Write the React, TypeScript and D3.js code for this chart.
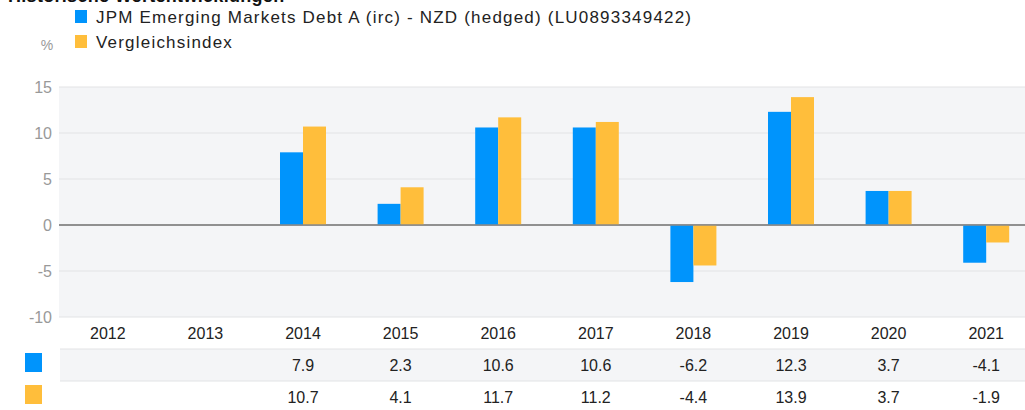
import React from "react";
import * as d3 from "d3";

const title = "Historische Wertentwicklungen";
const years = ["2012", "2013", "2014", "2015", "2016", "2017", "2018", "2019", "2020", "2021"];
const fundName = "JPM Emerging Markets Debt A (irc) - NZD (hedged) (LU0893349422)";
const indexName = "Vergleichsindex";
const fundValues: (number | null)[] = [null, null, 7.9, 2.3, 10.6, 10.6, -6.2, 12.3, 3.7, -4.1];
const indexValues: (number | null)[] = [null, null, 10.7, 4.1, 11.7, 11.2, -4.4, 13.9, 3.7, -1.9];
const yTicks = [15, 10, 5, 0, -5, -10];

const BLUE = "#0094fc";
const ORANGE = "#ffbe3b";
const FONT = "'Liberation Sans', Arial, sans-serif";

export default function App() {
  const W = 1025, H = 410;
  const left = 59, right = 1035;
  const top = 87, bottom = 317;
  const x = d3.scaleBand<string>().domain(years).range([left, right]).paddingInner(0).paddingOuter(0);
  const y = d3.scaleLinear().domain([-10, 15]).range([bottom, top]);
  const barW = 23;
  const fmt = (v: number | null) => (v == null ? "" : v.toFixed(1));
  const rowY1 = 349, rowY2 = 381;

  return (
    <svg width={W} height={H} style={{ position: "absolute", left: 0, top: 0 }} fontFamily={FONT}>
      <rect x={0} y={0} width={W} height={H} fill="#fff" />
      <text x={8} y={2} fontSize={18} fontWeight="bold" fill="#111" letterSpacing={0.3}>{title}</text>
      {/* legend */}
      <rect x={75} y={10} width={12} height={13} fill={BLUE} />
      <text x={96} y={23} fontSize={17} fill="#222" letterSpacing={1.2}>{fundName}</text>
      <rect x={75} y={35} width={12} height={13} fill={ORANGE} />
      <text x={96} y={48} fontSize={17} fill="#222" letterSpacing={1.2}>{indexName}</text>
      <text x={47} y={50} fontSize={14} fill="#999" textAnchor="middle">%</text>

      {/* plot bg */}
      <rect x={left} y={top} width={right - left} height={bottom - top} fill="#f4f5f7" />
      {yTicks.map((t) => (
        <g key={t}>
          <line x1={left} x2={right} y1={y(t)} y2={y(t)} stroke={t === 0 ? "#8a8a8a" : "#e2e3e5"} strokeWidth={t === 0 ? 1.5 : 1} />
          <text x={52} y={y(t) + 6} fontSize={16} fill="#999" textAnchor="end">{t}</text>
        </g>
      ))}
      {years.map((yr, i) => {
        const c = (x(yr) as number) + x.bandwidth() / 2;
        const f = fundValues[i];
        const ix = indexValues[i];
        return (
          <g key={yr}>
            {f != null && (
              <rect x={c - barW} width={barW} y={y(Math.max(0, f))} height={Math.abs(y(f) - y(0))} fill={BLUE} />
            )}
            {ix != null && (
              <rect x={c} width={barW} y={y(Math.max(0, ix))} height={Math.abs(y(ix) - y(0))} fill={ORANGE} />
            )}
          </g>
        );
      })}
      <line x1={left} x2={right} y1={y(0)} y2={y(0)} stroke="#8a8a8a" strokeWidth={1.5} />

      {/* table */}
      <rect x={left + 1} y={rowY1} width={right - left} height={rowY2 - rowY1} fill="#f4f5f7" />
      <line x1={left + 1} x2={right} y1={rowY1} y2={rowY1} stroke="#e2e3e5" />
      <line x1={left + 1} x2={right} y1={rowY2} y2={rowY2} stroke="#e2e3e5" />
      <rect x={25} y={353} width={17} height={19} fill={BLUE} />
      <rect x={25} y={385} width={17} height={19} fill={ORANGE} />
      {years.map((yr, i) => {
        const c = (x(yr) as number) + x.bandwidth() / 2;
        return (
          <g key={"t" + yr} fontSize={16} fill="#222" textAnchor="middle">
            <text x={c} y={339}>{yr}</text>
            <text x={c} y={371}>{fmt(fundValues[i])}</text>
            <text x={c} y={403}>{fmt(indexValues[i])}</text>
          </g>
        );
      })}
    </svg>
  );
}
